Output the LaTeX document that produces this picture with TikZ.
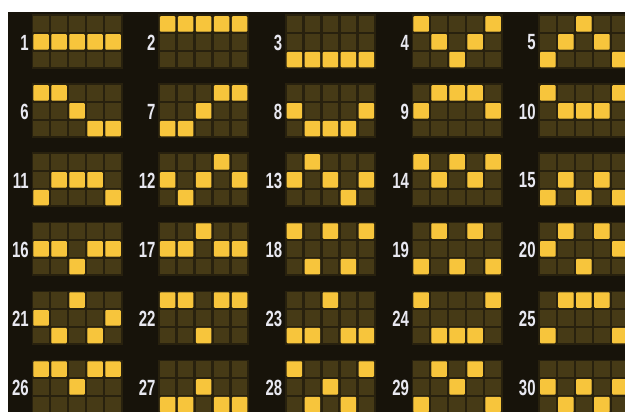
\documentclass[tikz,border=0pt]{standalone}
\usepackage{fontspec}
\usepackage{xcolor}
\newfontfamily\linefont[FakeStretch=0.68]{Liberation Sans Bold}
\definecolor{slotback}{HTML}{17130A}
\definecolor{slotpanel}{HTML}{28210E}
\definecolor{slotoff}{HTML}{463A16}
\definecolor{sloton}{HTML}{F7C53C}
\definecolor{slotnum}{HTML}{E8E8F0}
\tikzset{
  cell/.style={rectangle,fill=slotoff,minimum size=15.5pt,inner sep=0pt},
  lit cell/.style={cell,fill=sloton,rounded corners=1pt},
  panel/.style={fill=slotpanel},
  line num/.style={anchor=east,inner sep=0pt,text=slotnum,
    font=\linefont\fontsize{22}{22}\selectfont}
}

\begin{document}
\begin{tikzpicture}[x=1pt,y=-1pt]
  \useasboundingbox (0,0) rectangle (625,412);
  \fill[white] (0,0) rectangle (625,412);
  \fill[slotback] (8,12) rectangle (625,412);
  \clip (8,12) rectangle (625,412);
  % one entry per payline: number / row of reels 1..5 (0 top, 2 bottom)
  \foreach \n/\a/\b/\c/\d/\e in {
      1/1/1/1/1/1, 2/0/0/0/0/0, 3/2/2/2/2/2, 4/0/1/2/1/0, 5/2/1/0/1/2,
      6/0/0/1/2/2, 7/2/2/1/0/0, 8/1/2/2/2/1, 9/1/0/0/0/1, 10/0/1/1/1/0,
      11/2/1/1/1/2, 12/1/2/1/0/1, 13/1/0/1/2/1, 14/0/1/0/1/0, 15/2/1/2/1/2,
      16/1/1/2/1/1, 17/1/1/0/1/1, 18/0/2/0/2/0, 19/2/0/2/0/2, 20/1/0/2/0/1,
      21/1/2/0/2/1, 22/0/0/2/0/0, 23/2/2/0/2/2, 24/0/2/2/2/0, 25/2/0/0/0/2,
      26/0/0/1/0/0, 27/2/2/1/2/2, 28/0/2/1/2/0, 29/2/0/1/0/2, 30/1/2/1/2/1}{
    \pgfmathsetmacro{\gx}{41+126.7*mod(\n-1,5)}
    \pgfmathsetmacro{\gy}{24+69*div(\n-1,5)}
    \fill[panel] (\gx-9.5,\gy-9.5) rectangle (\gx+72+9.5,\gy+35.6+9.5);
    \foreach \col in {0,...,4}
      \foreach \row in {0,1,2}
        \node[cell] (c-\n-\col-\row) at (\gx+18*\col,\gy+17.8*\row) {};
    \foreach \col/\row in {0/\a,1/\b,2/\c,3/\d,4/\e}
      \node[lit cell] (p-\n-\col) at (c-\n-\col-\row) {};
    \node[line num] (l-\n) at (\gx-12,\gy+18.5) {\n};
  }
\end{tikzpicture}
\end{document}
